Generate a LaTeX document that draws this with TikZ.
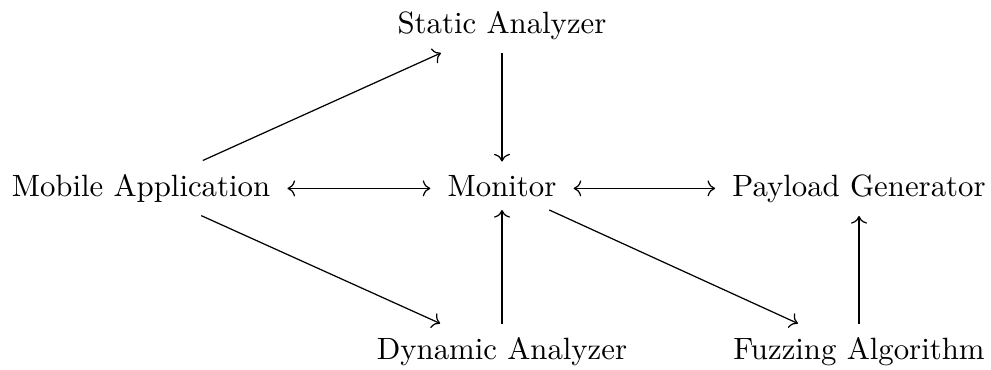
\documentclass[tikz,border=0pt]{standalone}
\usetikzlibrary{arrows.meta,cd}
\begin{document}
\begin{tikzpicture}[x=0.3247pt,y=-0.3247pt,
  comp/.style={shape=asymmetrical rectangle, inner xsep=5.4pt, inner ysep=4.2pt},
  link/.style={->},
  duplex/.style={<->}]
\useasboundingbox (0,0) rectangle (991,369);
% top row
\node[comp] (sta) at (502,25.4) {Static Analyzer};
% middle row
\node[comp] (mob) at (141,188.4) {Mobile Application};
\node[comp] (mon) at (502,188.4) {Monitor};
\node[comp] (pay) at (859,188.4) {Payload Generator};
% bottom row
\node[comp] (dyn) at (502,351.4) {Dynamic Analyzer};
\node[comp] (fuz) at (859,351.4) {Fuzzing Algorithm};
% connections
\draw[link] (mob) -- (sta);
\draw[link] (sta) -- (mon);
\draw[duplex] (mob) -- (mon);
\draw[duplex] (mon) -- (pay);
\draw[link] (mob) -- (dyn);
\draw[link] (dyn) -- (mon);
\draw[link] (mon) -- (fuz);
\draw[link] (fuz) -- (pay);
\end{tikzpicture}
\end{document}
